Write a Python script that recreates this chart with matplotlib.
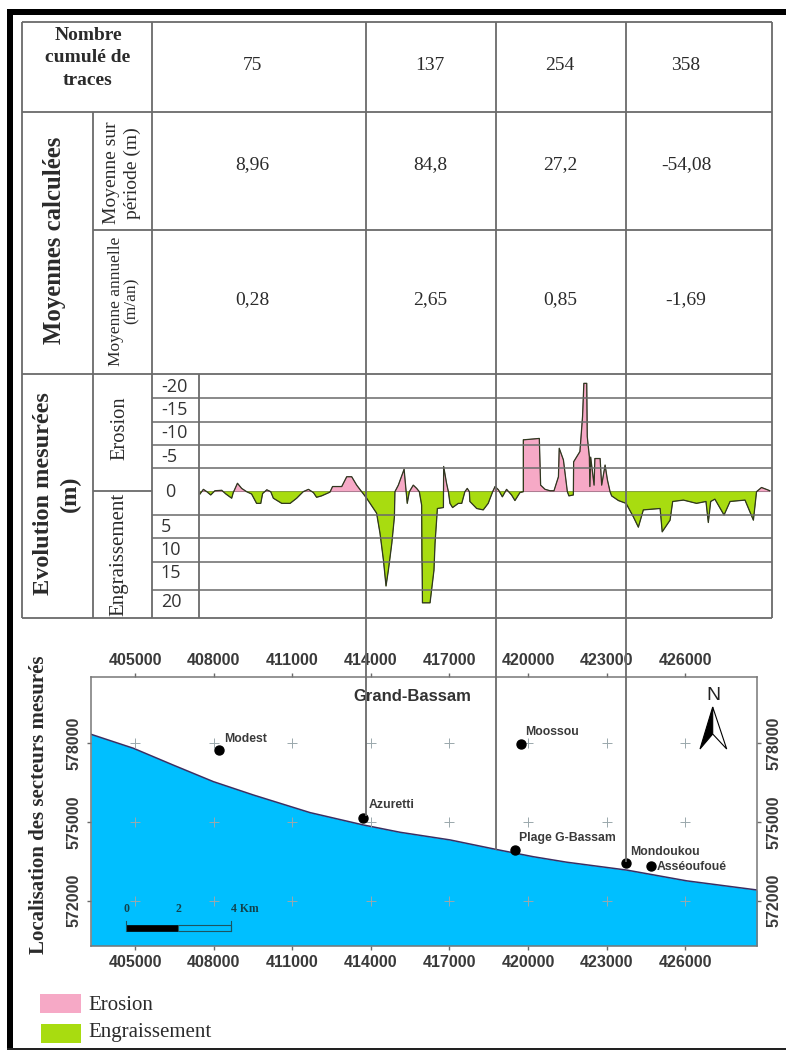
import numpy as np
import matplotlib
matplotlib.use('Agg')
import matplotlib.pyplot as plt
from matplotlib.patches import Polygon, Rectangle

W, H = 786, 1050
SERIF = 'Liberation Serif'
SANS = 'Liberation Sans'
LINE = '#6a6a6a'
PINK = '#f6a9c6'
GREEN = '#a8dc10'
SEA = '#00bfff'
TXT = '#2b2b2b'

# table contents
traces = ['75', '137', '254', '358']
mean_period = ['8,96', '84,8', '27,2', '-54,08']
mean_annual = ['0,28', '2,65', '0,85', '-1,69']

# shoreline evolution profile: easting (m), change (m), negative = erosion
profile_e = [407480, 407610, 407740, 407890, 408050, 408310, 408470, 408690, 408750, 408910,
             409070, 409260, 409450, 409640, 409800, 409870, 410030, 410180, 410280, 410600,
             410920, 411170, 411420, 411620, 411810, 411930, 412120, 412440, 412540, 412700,
             412890, 413080, 413270, 413460, 413650, 413840, 414220, 414350, 414480, 414580,
             414670, 414800, 414900, 414920, 415050, 415270, 415340, 415390, 415470, 415620,
             415750, 415850, 415940, 415950, 415960, 415970, 416260, 416410, 416450, 416540,
             416770, 416780, 416890, 416960, 417020, 417120, 417340, 417470, 417590, 417680,
             417760, 417780, 418040, 418290, 418480, 418650, 418740, 418870, 419020, 419180,
             419370, 419500, 419690, 419820, 419820, 420430, 420480, 420650, 420840, 420990,
             421160, 421190, 421350, 421500, 421560, 421730, 421730, 421740, 421980, 422080,
             422130, 422240, 422260, 422340, 422360, 422390, 422520, 422550, 422750, 422810,
             422940, 423030, 423130, 423190, 423450, 423740, 424020, 424210, 424400, 425040,
             425120, 425420, 425520, 425930, 426430, 426790, 426880, 426970, 427130, 427480,
             427710, 428280, 428600, 428720, 428910, 429230]
profile_m = [0.5, -0.5, 0, 0.7, -0.2, -0.3, 0.5, 1.4, 0.2, -1.8,
             -0.7, 0, 0.5, 2.5, 2.5, 0.4, -0.4, 0, 1.4, 2.5,
             2.5, 1.4, 0, -0.5, 0.2, 1.2, 0.9, 0.1, -1.1, -1.1,
             -1.1, -3.2, -3.2, -1.4, 0, 1.4, 4.6, 8.9, 14.6, 20.2,
             16.8, 11.1, 5.4, 0, -1.4, -4.8, -0.4, 2.5, 0, -1.4,
             -0.7, 0, 2.9, 13.9, 16.8, 23.8, 23.8, 16.8, 11.1, 3.6,
             3.4, -5.4, -1.8, 0, 2.5, 3.4, 2.5, 2.5, 0, -0.7,
             0, 2.1, 3.6, 3.9, 2.5, 0, -1.1, -0.4, 1.1, -0.5,
             0.7, 1.9, 0.2, 0, -11.1, -11.4, -1.4, -0.5, -0.2, -0.2,
             -3.2, -9.3, -6.8, 0, 0.9, 0.7, 0, -6.4, -8.6, -16.1,
             -23.2, -23.2, -11.8, -7.5, -1.1, -7.4, -1.4, -7.1, -7.1, -1.4,
             -5.7, -2.5, 0, 0.9, 1.9, 2.5, 5.4, 7.6, 3.9, 3.6,
             8.6, 6.1, 2.1, 1.8, 2.5, 2.1, 6.6, 2.1, 1.6, 5.0,
             2.1, 1.8, 6.1, 0, -0.9, -0.2]
row_lines_m = [-20, -15, -10, -5, 5, 10, 15, 21]
axis_labels = ['-20', '-15', '-10', '-5', '0', '5', '10', '15', '20']

# map
coast_e = [403320, 404940, 406460, 407990, 409520, 411680, 413710, 415120, 417020,
           418770, 420200, 421480, 423770, 426060, 428754]
coast_n = [578343, 577810, 577170, 576540, 576030, 575360, 574890, 574610, 574320,
           573960, 573680, 573470, 573170, 572760, 572410]
map_ticks_e = [405000, 408000, 411000, 414000, 417000, 420000, 423000, 426000]
map_ticks_n = [572000, 575000, 578000]
site_names = ['Modest', 'Azuretti', 'Moossou', 'Plage G-Bassam', 'Mondoukou', 'Asséoufoué']
site_e = [408220, 413710, 419720, 419500, 423740, 424710]
site_n = [577740, 575170, 577970, 573930, 573430, 573340]


def add_axes_px(fig, left, top, right, bottom):
    return fig.add_axes([left / W, 1 - bottom / H, (right - left) / W, (bottom - top) / H])


fig = plt.figure(figsize=(W / 100, H / 100), dpi=100, facecolor='white')

# --- profile ---
ax = add_axes_px(fig, 152, 374, 772, 618)
ax.set_xlim(405649, 429310)
ax.set_ylim(27.05, -25.2)
e = np.array(profile_e, dtype=float)
m = np.array(profile_m)
ax.fill_between(e, m, 0, where=m <= 0, interpolate=True, color=PINK, lw=0.5, ec='#8a5a70')
ax.fill_between(e, m, 0, where=m >= 0, interpolate=True, color=GREEN, lw=0.5, ec='#5d7a08')
ax.plot(e, m, color='#303820', lw=0.9)
ax.set_yticks(row_lines_m)
ax.set_xticks([])
ax.grid(axis='y', color=LINE, lw=1.1)
ax.set_axisbelow(False)
ax.tick_params(length=0, labelleft=False)
for s in ax.spines.values():
    s.set_visible(False)
ax.patch.set_alpha(0)

# --- map ---
mp = add_axes_px(fig, 91, 676.7, 757.3, 945.7)
mp.set_xlim(403320, 428754)
mp.set_ylim(570289, 580537)
mp.fill_between(coast_e, coast_n, 570289, color=SEA, lw=0)
mp.plot(coast_e, coast_n, color='#3a2f63', lw=1.1)
cx, cy = np.meshgrid(map_ticks_e, map_ticks_n)
mp.scatter(cx.ravel(), cy.ravel(), marker='+', s=55, color='#9aa8ac', linewidths=0.7, zorder=3)
mp.scatter(site_e, site_n, s=42, color='black', zorder=4)
offsets = [(3.6, 8), (4, 9), (3, 9), (3, 8.5), (3, 8), (4, -1)]
for name, x, y, off in zip(site_names, site_e, site_n, offsets):
    mp.annotate(name, (x, y), xytext=off, textcoords='offset points', fontsize=8.8,
                fontweight='bold', family=SANS, color='#3a3a3a', va='center', zorder=5)
mp.text(415573, 579800, 'Grand-Bassam', fontsize=12, fontweight='bold', family=SANS,
        color='#333333', ha='center', va='center')
mp.set_xticks(map_ticks_e)
mp.set_yticks(map_ticks_n)
mp.tick_params(axis='both', length=3, width=1, color=LINE, pad=3.5, labelsize=11.5, labelcolor='#3a3a3a',
               top=True, right=True, labeltop=True, labelright=True)
for lab in mp.get_xticklabels() + mp.get_yticklabels():
    lab.set_family(SANS)
    lab.set_fontweight('bold')
for lab in mp.get_yticklabels():
    lab.set_rotation(90)
    lab.set_va('center')
for s in mp.spines.values():
    s.set_color('#777777')
    s.set_linewidth(1.1)

# scale bar, 4 km long
mp.add_patch(Rectangle((404660, 570850), 2000, 230, fc='black', ec='black', lw=0.5, zorder=4))
mp.add_patch(Rectangle((406660, 570850), 2000, 230, fc=SEA, ec='#1d5560', lw=0.8, zorder=4))
mp.plot([404660, 404660], [570850, 571240], color='#1d5560', lw=0.8, zorder=4)
mp.plot([408660, 408660], [570850, 571240], color='#1d5560', lw=0.8, zorder=4)
for x, s in zip([404660, 406660, 408660], ['0', '2', '4 Km']):
    mp.text(x, 571690, s, fontsize=8.5, fontweight='bold', family=SERIF, color='#12424c',
            ha='center' if s != '4 Km' else 'left', va='center', zorder=5)

# --- table frame, drawn in pixels over everything ---
ov = fig.add_axes([0, 0, 1, 1], zorder=5)
ov.set_xlim(0, W)
ov.set_ylim(H, 0)
ov.axis('off')
ov.patch.set_alpha(0)

# outer black frame
ov.add_patch(Rectangle((7, 9), W - 7, 6, fc='black', ec='none'))
ov.add_patch(Rectangle((7, 9), 6, H - 9, fc='black', ec='none'))
ov.add_patch(Rectangle((7, 1048), W - 7, 2, fc='#222222', ec='none'))

def seg(x0, y0, x1, y1, lw=1.3):
    ov.plot([x0, x1], [y0, y1], color=LINE, lw=lw, solid_capstyle='butt')

for y in (22, 112):
    seg(22, y, 772, y)
seg(93, 230, 772, 230)
seg(22, 374, 772, 374)
seg(22, 618, 772, 618)
seg(93, 491, 152, 491)
seg(22, 22, 22, 618)
seg(93, 112, 93, 618)
seg(152, 22, 152, 618)
seg(199, 374, 199, 618)
seg(772, 22, 772, 618)
# the three sector lines run down onto the map
seg(366, 22, 366, 816)
seg(495.5, 22, 495.5, 850)
seg(626, 22, 626, 862)

# text of the table
col_x = [252, 430, 560, 686]
for x, a, b, c in zip(col_x, traces, mean_period, mean_annual):
    ov.text(x, 65, a, fontsize=14, family=SERIF, color=TXT, ha='center', va='center')
    ov.text(x, 165, b, fontsize=14, family=SERIF, color=TXT, ha='center', va='center')
    ov.text(x, 300, c, fontsize=14, family=SERIF, color=TXT, ha='center', va='center')

ov.text(88, 58, 'Nombre\ncumulé de\ntraces', fontsize=14, fontweight='bold', family=SERIF,
        color=TXT, ha='center', va='center', linespacing=1.4)
ov.text(54, 240, 'Moyennes calculées', fontsize=17.8, fontweight='bold', family=SERIF, color=TXT,
        rotation=90, ha='center', va='center')
ov.text(57, 494, 'Evolution mesurées\n(m)', fontsize=17.5, fontweight='bold', family=SERIF, color=TXT,
        rotation=90, ha='center', va='center', ma='center', linespacing=1.3)
ov.text(122, 173, 'Moyenne sur\npériode (m)', fontsize=14, family=SERIF, color=TXT,
        rotation=90, ha='center', va='center', ma='center', linespacing=1.3)
ov.text(124, 301, 'Moyenne annuelle\n(m/an)', fontsize=12.5, family=SERIF, color=TXT,
        rotation=90, ha='center', va='center', ma='center', linespacing=1.0)
ov.text(120, 428, 'Erosion', fontsize=14.8, family=SERIF, color=TXT, rotation=90,
        ha='center', va='center')
ov.text(119, 554, 'Engraissement', fontsize=15, family=SERIF, color=TXT, rotation=90,
        ha='center', va='center')

# labels of the evolution scale sit in the middle of each row
label_x = [174, 174, 174, 169, 170, 166, 171, 171, 171]
label_y = [387, 410, 433, 457, 492, 527, 550, 573, 602]
for s, x, y in zip(axis_labels, label_x, label_y):
    ov.text(x, y, s, fontsize=13, family='Open Sans', color='#333333', ha='center', va='center')

ov.text(39, 805, 'Localisation des secteurs mesurés', fontsize=15, fontweight='bold', family=SERIF,
        color=TXT, rotation=90, ha='center', va='center')

# north arrow
ov.add_patch(Polygon([(712.7, 707), (700, 749), (712.7, 734)], fc='black', ec='black', lw=0.8))
ov.add_patch(Polygon([(712.7, 707), (726.7, 749), (712.7, 734)], fc='white', ec='black', lw=0.8))
ov.text(713, 695, 'N', fontsize=14, family=SANS, color='#222222', ha='center', va='center')

# legend
ov.add_patch(Rectangle((40, 994), 41, 19, fc=PINK, ec='none'))
ov.add_patch(Rectangle((41, 1024), 40, 19, fc=GREEN, ec='none'))
ov.text(88, 1005, 'Erosion', fontsize=15, family=SERIF, color=TXT, va='center')
ov.text(88, 1033, 'Engraissement', fontsize=15, family=SERIF, color=TXT, va='center')

fig.savefig('out.png', dpi=100)
